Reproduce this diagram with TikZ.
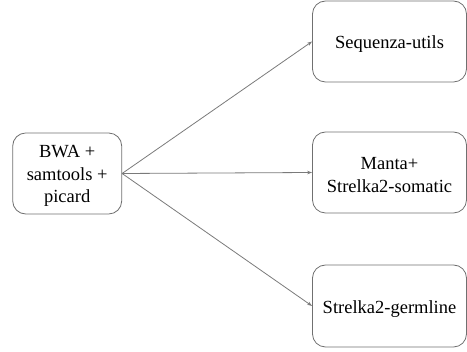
\documentclass[tikz,border=0pt]{standalone}
\usepackage{fontspec}
\setmainfont{Liberation Serif}
\usetikzlibrary{arrows.meta}
\definecolor{boxgray}{HTML}{707070}
\definecolor{linegray}{HTML}{7A7A7A}
\begin{document}
\begin{tikzpicture}[x=1pt,y=-1pt,
  tool/.style={draw=boxgray,line width=0.8pt,rounded corners=13pt,inner sep=0pt},
  txt/.style={align=center,inner sep=0pt,font=\fontsize{18.5}{22.5}\selectfont,text=black,yshift=-2.7pt},
  conn/.style={draw=linegray,line width=0.8pt,-{Stealth[length=5pt,width=3.5pt]}}]
\useasboundingbox (0,0) rectangle (467,352);
\node[tool,minimum width=109pt,minimum height=81pt,label={[txt]center:{BWA +\\samtools +\\picard}}] (bwa) at (67.2,173.5) {};
\node[tool,minimum width=154pt,minimum height=81pt,label={[txt]center:{Sequenza-utils}}] (seq) at (389.5,41.5) {};
\node[tool,minimum width=154pt,minimum height=81pt,label={[txt]center:{Manta+\\Strelka2-somatic}}] (manta) at (389.5,172.5) {};
\node[tool,minimum width=154pt,minimum height=82pt,label={[txt]center:{Strelka2-germline}}] (germ) at (389.5,306) {};
\draw[conn] (bwa.east) -- (seq.west);
\draw[conn] (bwa.east) -- (manta.west);
\draw[conn] (bwa.east) -- (germ.west);
\end{tikzpicture}
\end{document}
